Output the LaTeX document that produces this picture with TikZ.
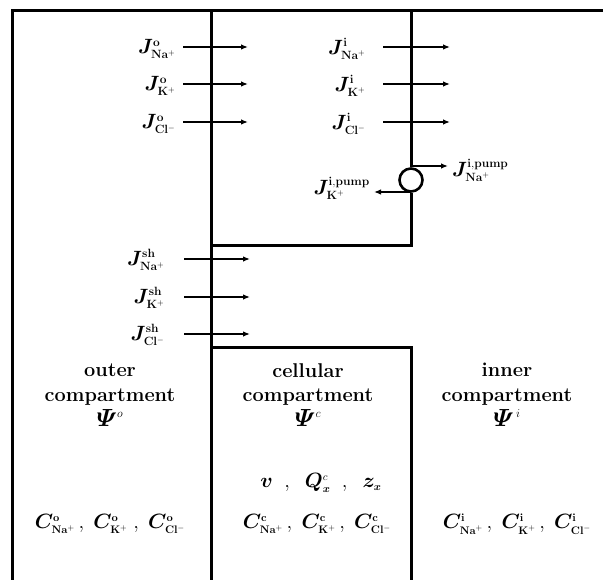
\documentclass[tikz,border=0pt]{standalone}
\usepackage{amsmath,bm}
\usetikzlibrary{arrows.meta}
\DeclareMathSizes{22}{22}{11.5}{8}
\DeclareMathSizes{19.5}{19.5}{11}{8}
\DeclareMathSizes{25}{25}{13}{9}
\tikzset{
  wall/.style={line width=3bp},
  flux/.style={line width=1.3bp,-{Latex[length=7bp,width=5.5bp]}},
  lab/.style={font=\fontsize{22}{24}\selectfont,inner sep=1bp},
  big/.style={font=\fontsize{20}{25}\selectfont\bfseries,align=center,inner sep=0pt},
  conc/.style={font=\fontsize{19.5}{22}\selectfont,inner sep=0pt}
}
\newcommand{\JJ}[2]{$\boldsymbol{J}^{\mathbf{#1}}_{\mathbf{#2}}$}
\newcommand{\CC}[2]{\boldsymbol{C}^{\mathbf{#1}}_{\mathbf{#2}}}
\newcommand{\PP}[1]{{\fontsize{25}{25}\selectfont$\boldsymbol{\varPsi}^{#1}$}}
\begin{document}
\begin{tikzpicture}[x=1bp,y=-1bp]
\useasboundingbox (0,0) rectangle (603,580);
% walls
\coordinate (tl) at (12,11);
\coordinate (tr) at (603,11);
\coordinate (bl) at (12,580);
\draw[wall] (bl) -- (tl) -- (tr);
\draw[wall] (211,11) -- (211,580);
\node[draw,circle,line width=2.6bp,minimum size=23bp,inner sep=0pt] (pump) at (411,180) {};
\draw[wall] (411,11) -- (pump.north);
\draw[wall] (pump.south) -- (411,245) -- (211,245);
\draw[wall] (211,347) -- (411,347) -- (411,580);
% outer and inner fluxes
\foreach \y/\n/\s in {47/Na/{Na^+},84/K/{K^+},122/Cl/{Cl^-}}{
  \coordinate (o\n a) at (183,\y);
  \coordinate (o\n b) at (248,\y);
  \draw[flux] (o\n a) -- (o\n b);
  \node[lab,anchor=east] (Jo\n) at (177,\y+2) {\JJ{o}{\s}};
  \coordinate (i\n a) at (383,\y);
  \coordinate (i\n b) at (450,\y);
  \draw[flux] (i\n a) -- (i\n b);
  \node[lab,anchor=east] (Ji\n) at (367,\y+2) {\JJ{i}{\s}};
}
% shunt fluxes
\foreach \y/\n/\s in {259/Na/{Na^+},297/K/{K^+},334/Cl/{Cl^-}}{
  \coordinate (s\n a) at (184,\y);
  \coordinate (s\n b) at (250,\y);
  \draw[flux] (s\n a) -- (s\n b);
  \node[lab,anchor=east] (Js\n) at (166,\y+1) {\JJ{sh}{\s}};
}
% pump fluxes
\coordinate (pNaa) at (411,166);
\coordinate (pNab) at (448,166);
\draw[flux] (pNaa) -- (pNab);
\node[lab,anchor=west] (JpNa) at (451,170) {\JJ{i,pump}{Na^+}};
\coordinate (pKa) at (411,192);
\coordinate (pKb) at (374,192);
\draw[flux] (pKa) -- (pKb);
\node[lab,anchor=east] (JpK) at (371,188) {\JJ{i,pump}{K^+}};
% compartment labels
\node[big] (outer) at (110,395) {outer\\compartment\\\PP{o}};
\node[big] (cell) at (308,395) {cellular\\compartment\\\PP{c}};
\node[big] (inner) at (507,395) {inner\\compartment\\\PP{\,i}};
\node[conc] (vqz) at (321,483) {$\boldsymbol{v}\;\;,\;\;\boldsymbol{Q}^{c}_{\boldsymbol{x}}\;\;,\;\;\boldsymbol{z}_{\boldsymbol{x}}$};
\node[conc] (Co) at (110,524) {$\CC{o}{Na^+}\,,\;\CC{o}{K^+}\;,\;\CC{o}{Cl^-}$};
\node[conc] (Cc) at (317,524) {$\CC{c}{Na^+}\,,\;\CC{c}{K^+}\,,\;\CC{c}{Cl^-}$};
\node[conc] (Ci) at (517,524) {$\CC{i}{Na^+}\,,\;\CC{i}{K^+}\,,\;\CC{i}{Cl^-}$};
\end{tikzpicture}
\end{document}
